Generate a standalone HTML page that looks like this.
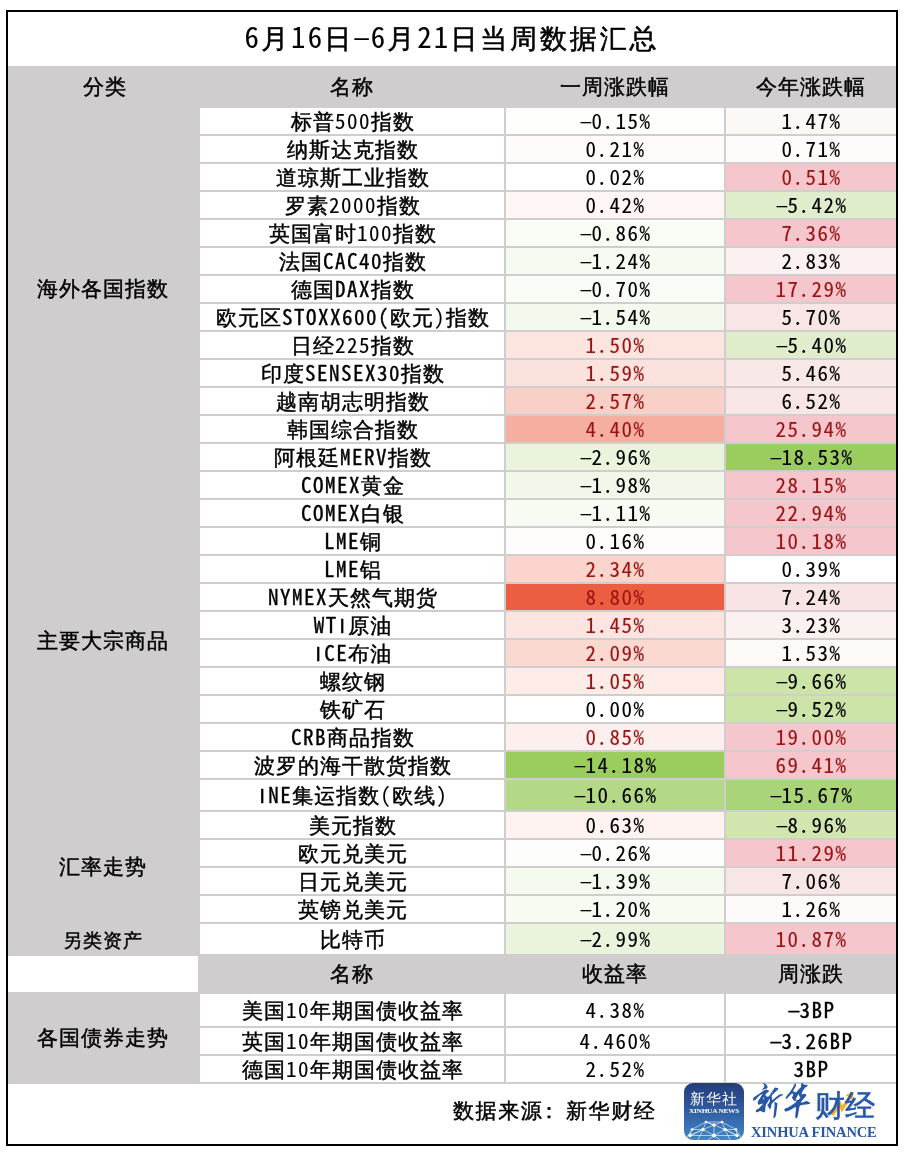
<!DOCTYPE html>
<html lang="zh-CN"><head><meta charset="utf-8"><title>6月16日-6月21日当周数据汇总</title>
<style>
html,body{margin:0;padding:0;background:#fff;}
body{width:910px;height:1162px;position:relative;overflow:hidden;
 font-family:"WenQuanYi Zen Hei","Noto Sans CJK SC",sans-serif;color:#000;-webkit-text-stroke:0.45px currentColor;}
#frame{position:absolute;left:6px;top:10px;width:892px;height:1136px;border:2px solid #000;box-sizing:border-box;}
#grid{position:absolute;left:8px;top:66px;width:888px;height:1018px;background:#cfcdcd;}
.c{position:absolute;text-align:center;white-space:nowrap;font-size:21px;letter-spacing:1px;background:#fff;}
.l{font-family:"Noto Sans Mono CJK SC","WenQuanYi Zen Hei Mono",monospace;letter-spacing:1.5px;line-height:0;}
.h{position:absolute;text-align:center;white-space:nowrap;font-size:21px;letter-spacing:1px;}
#title{-webkit-text-stroke:0.55px #000;position:absolute;left:8px;top:12px;width:888px;height:54px;line-height:54px;text-align:center;font-size:27px;letter-spacing:2.85px;white-space:nowrap;}
#title .l{font-size:28.8px;letter-spacing:2.2px;}
.l{-webkit-text-stroke:0.1px currentColor;}
.m{display:inline-block;transform:translateX(1.2px) scaleX(1.75) scaleY(0.85);line-height:1;}
.d{position:relative;left:-1px;}
.u{-webkit-text-stroke:0.35px currentColor;}
.i{display:inline-block;width:10.5px;text-align:center;font-family:"Liberation Sans",sans-serif;line-height:1;-webkit-text-stroke:0.3px currentColor;}
#src{position:absolute;left:453px;top:1099px;font-size:21px;letter-spacing:1.6px;white-space:nowrap;line-height:24px;}
#appicon{position:absolute;left:684px;top:1083px;width:60px;height:57px;border-radius:9px;overflow:hidden;background:linear-gradient(180deg,#243c7b 0%,#2f5a9e 45%,#4088c8 100%);}
#ai-t1{position:absolute;left:4px;top:8px;width:52px;text-align:center;font-size:15px;line-height:16px;letter-spacing:1px;color:#fff;-webkit-text-stroke:0;font-family:"WenQuanYi Zen Hei",sans-serif;}
#ai-t2{position:absolute;left:-22px;top:21.5px;width:104px;text-align:center;font-size:12px;line-height:12px;color:#fff;-webkit-text-stroke:0;font-family:"Liberation Serif",serif;font-weight:bold;transform:scale(0.62,0.52);letter-spacing:-0.5px;}
#ai-net{position:absolute;left:0;top:0;}
#xh-cal{position:absolute;left:750px;top:1080px;font-family:"Zhi Mang Xing","Ma Shan Zheng","Noto Serif CJK SC",serif;font-size:39px;line-height:44px;color:#2657a8;-webkit-text-stroke:0;white-space:nowrap;letter-spacing:-5px;transform:skewX(-6deg);}
#xh-cj{position:absolute;left:815px;top:1090px;font-family:"WenQuanYi Zen Hei",sans-serif;font-size:30px;line-height:32px;color:#2657a8;-webkit-text-stroke:0.6px #2657a8;white-space:nowrap;letter-spacing:0px;}
#xh-arrow{position:absolute;left:828px;top:1088px;}
#xh-en{position:absolute;left:751px;top:1124px;font-family:"Liberation Serif",serif;font-weight:bold;font-size:14.5px;line-height:16px;color:#2657a8;-webkit-text-stroke:0;white-space:nowrap;letter-spacing:-0.15px;}
</style></head><body>
<div id="frame"></div>
<div id="title"><span class="l">6</span>月<span class="l">16</span>日<span class="l"><span class="m">-</span>6</span>月<span class="l">21</span>日当周数据汇总</div>
<div id="grid"></div>
<div class="h" style="left:10px;top:66px;width:190px;height:40px;line-height:43px;">分类</div>
<div class="h" style="left:200px;top:66px;width:304px;height:40px;line-height:43px;">名称</div>
<div class="h" style="left:506px;top:66px;width:218px;height:40px;line-height:43px;">一周涨跌幅</div>
<div class="h" style="left:726px;top:66px;width:170px;height:40px;line-height:43px;">今年涨跌幅</div>
<div class="h" style="left:8px;top:108px;width:190px;height:362px;line-height:362px;">海外各国指数</div>
<div class="h" style="left:8px;top:472px;width:190px;height:338px;line-height:338px;">主要大宗商品</div>
<div class="h" style="left:8px;top:812px;width:190px;height:110px;line-height:110px;">汇率走势</div>
<div class="h" style="left:8px;top:924px;width:190px;height:30px;line-height:34px;font-size:19px;letter-spacing:1px;">另类资产</div>
<div class="c" style="left:8px;top:956px;width:190px;height:36px;"></div>
<div class="h" style="left:200px;top:954px;width:304px;height:40px;line-height:40px;">名称</div>
<div class="h" style="left:506px;top:954px;width:218px;height:40px;line-height:40px;">收益率</div>
<div class="h" style="left:726px;top:954px;width:170px;height:40px;line-height:40px;">周涨跌</div>
<div class="h" style="left:8px;top:994px;width:190px;height:88px;line-height:88px;">各国债券走势</div>
<div class="c" style="left:200px;top:108px;width:302px;height:26px;line-height:28px;padding-left:2px;">标普<span class="l">500</span>指数</div>
<div class="c" style="left:506px;top:108px;width:217px;height:26px;line-height:28px;padding-left:1px;background:#fefefd;"><span class="l"><span class="m">-</span>0<span class="d">.</span>15%</span></div>
<div class="c" style="left:726px;top:108px;width:169px;height:26px;line-height:28px;padding-left:1px;background:#fcf8f6;"><span class="l">1<span class="d">.</span>47%</span></div>
<div class="c" style="left:200px;top:136px;width:302px;height:26px;line-height:28px;padding-left:2px;">纳斯达克指数</div>
<div class="c" style="left:506px;top:136px;width:217px;height:26px;line-height:28px;padding-left:1px;background:#fffbfa;"><span class="l">0<span class="d">.</span>21%</span></div>
<div class="c" style="left:726px;top:136px;width:169px;height:26px;line-height:28px;padding-left:1px;background:#fefbfb;"><span class="l">0<span class="d">.</span>71%</span></div>
<div class="c" style="left:200px;top:164px;width:302px;height:26px;line-height:28px;padding-left:2px;">道琼斯工业指数</div>
<div class="c" style="left:506px;top:164px;width:217px;height:26px;line-height:28px;padding-left:1px;background:#ffffff;"><span class="l">0<span class="d">.</span>02%</span></div>
<div class="c" style="left:726px;top:164px;width:169px;height:26px;line-height:28px;padding-left:1px;background:#f6c6cd;color:#9a1414;"><span class="l">0<span class="d">.</span>51%</span></div>
<div class="c" style="left:200px;top:192px;width:302px;height:26px;line-height:28px;padding-left:2px;">罗素<span class="l">2000</span>指数</div>
<div class="c" style="left:506px;top:192px;width:217px;height:26px;line-height:28px;padding-left:1px;background:#fef7f6;"><span class="l">0<span class="d">.</span>42%</span></div>
<div class="c" style="left:726px;top:192px;width:169px;height:26px;line-height:28px;padding-left:1px;background:#e0edcc;"><span class="l"><span class="m">-</span>5<span class="d">.</span>42%</span></div>
<div class="c" style="left:200px;top:220px;width:302px;height:26px;line-height:28px;padding-left:2px;">英国富时<span class="l">100</span>指数</div>
<div class="c" style="left:506px;top:220px;width:217px;height:26px;line-height:28px;padding-left:1px;background:#f9fcf5;"><span class="l"><span class="m">-</span>0<span class="d">.</span>86%</span></div>
<div class="c" style="left:726px;top:220px;width:169px;height:26px;line-height:28px;padding-left:1px;background:#f6c6cd;color:#9a1414;"><span class="l">7<span class="d">.</span>36%</span></div>
<div class="c" style="left:200px;top:248px;width:302px;height:26px;line-height:28px;padding-left:2px;">法国<span class="l u">CAC40</span>指数</div>
<div class="c" style="left:506px;top:248px;width:217px;height:26px;line-height:28px;padding-left:1px;background:#f6fbf1;"><span class="l"><span class="m">-</span>1<span class="d">.</span>24%</span></div>
<div class="c" style="left:726px;top:248px;width:169px;height:26px;line-height:28px;padding-left:1px;background:#fbf1f1;"><span class="l">2<span class="d">.</span>83%</span></div>
<div class="c" style="left:200px;top:276px;width:302px;height:26px;line-height:28px;padding-left:2px;">德国<span class="l u">DAX</span>指数</div>
<div class="c" style="left:506px;top:276px;width:217px;height:26px;line-height:28px;padding-left:1px;background:#fafcf7;"><span class="l"><span class="m">-</span>0<span class="d">.</span>70%</span></div>
<div class="c" style="left:726px;top:276px;width:169px;height:26px;line-height:28px;padding-left:1px;background:#f6c6cd;color:#9a1414;"><span class="l">17<span class="d">.</span>29%</span></div>
<div class="c" style="left:200px;top:304px;width:302px;height:26px;line-height:28px;padding-left:2px;">欧元区<span class="l u">STOXX600(</span>欧元<span class="l">)</span>指数</div>
<div class="c" style="left:506px;top:304px;width:217px;height:26px;line-height:28px;padding-left:1px;background:#f4f9ee;"><span class="l"><span class="m">-</span>1<span class="d">.</span>54%</span></div>
<div class="c" style="left:726px;top:304px;width:169px;height:26px;line-height:28px;padding-left:1px;background:#f8e6e6;"><span class="l">5<span class="d">.</span>70%</span></div>
<div class="c" style="left:200px;top:332px;width:302px;height:26px;line-height:28px;padding-left:2px;">日经<span class="l">225</span>指数</div>
<div class="c" style="left:506px;top:332px;width:217px;height:26px;line-height:28px;padding-left:1px;background:#fce4df;color:#9a1414;"><span class="l">1<span class="d">.</span>50%</span></div>
<div class="c" style="left:726px;top:332px;width:169px;height:26px;line-height:28px;padding-left:1px;background:#e0edcc;"><span class="l"><span class="m">-</span>5<span class="d">.</span>40%</span></div>
<div class="c" style="left:200px;top:360px;width:302px;height:26px;line-height:28px;padding-left:2px;">印度<span class="l u">SENSEX30</span>指数</div>
<div class="c" style="left:506px;top:360px;width:217px;height:26px;line-height:28px;padding-left:1px;background:#fce2dd;color:#9a1414;"><span class="l">1<span class="d">.</span>59%</span></div>
<div class="c" style="left:726px;top:360px;width:169px;height:26px;line-height:28px;padding-left:1px;background:#f9e8e8;"><span class="l">5<span class="d">.</span>46%</span></div>
<div class="c" style="left:200px;top:388px;width:302px;height:26px;line-height:28px;padding-left:2px;">越南胡志明指数</div>
<div class="c" style="left:506px;top:388px;width:217px;height:26px;line-height:28px;padding-left:1px;background:#f9d0c8;color:#9a1414;"><span class="l">2<span class="d">.</span>57%</span></div>
<div class="c" style="left:726px;top:388px;width:169px;height:26px;line-height:28px;padding-left:1px;background:#f8e6e6;"><span class="l">6<span class="d">.</span>52%</span></div>
<div class="c" style="left:200px;top:416px;width:302px;height:26px;line-height:28px;padding-left:2px;">韩国综合指数</div>
<div class="c" style="left:506px;top:416px;width:217px;height:26px;line-height:28px;padding-left:1px;background:#f6aea0;color:#9a1414;"><span class="l">4<span class="d">.</span>40%</span></div>
<div class="c" style="left:726px;top:416px;width:169px;height:26px;line-height:28px;padding-left:1px;background:#f6c6cd;color:#9a1414;"><span class="l">25<span class="d">.</span>94%</span></div>
<div class="c" style="left:200px;top:444px;width:302px;height:26px;line-height:28px;padding-left:2px;">阿根廷<span class="l u">MERV</span>指数</div>
<div class="c" style="left:506px;top:444px;width:217px;height:26px;line-height:28px;padding-left:1px;background:#eaf4dd;"><span class="l"><span class="m">-</span>2<span class="d">.</span>96%</span></div>
<div class="c" style="left:726px;top:444px;width:169px;height:26px;line-height:28px;padding-left:1px;background:#9bcc5e;"><span class="l"><span class="m">-</span>18<span class="d">.</span>53%</span></div>
<div class="c" style="left:200px;top:472px;width:302px;height:26px;line-height:28px;padding-left:2px;"><span class="l u">COMEX</span>黄金</div>
<div class="c" style="left:506px;top:472px;width:217px;height:26px;line-height:28px;padding-left:1px;background:#f1f8e9;"><span class="l"><span class="m">-</span>1<span class="d">.</span>98%</span></div>
<div class="c" style="left:726px;top:472px;width:169px;height:26px;line-height:28px;padding-left:1px;background:#f6c6cd;color:#9a1414;"><span class="l">28<span class="d">.</span>15%</span></div>
<div class="c" style="left:200px;top:500px;width:302px;height:26px;line-height:28px;padding-left:2px;"><span class="l u">COMEX</span>白银</div>
<div class="c" style="left:506px;top:500px;width:217px;height:26px;line-height:28px;padding-left:1px;background:#f7fbf2;"><span class="l"><span class="m">-</span>1<span class="d">.</span>11%</span></div>
<div class="c" style="left:726px;top:500px;width:169px;height:26px;line-height:28px;padding-left:1px;background:#f6c6cd;color:#9a1414;"><span class="l">22<span class="d">.</span>94%</span></div>
<div class="c" style="left:200px;top:528px;width:302px;height:26px;line-height:28px;padding-left:2px;"><span class="l u">LME</span>铜</div>
<div class="c" style="left:506px;top:528px;width:217px;height:26px;line-height:28px;padding-left:1px;background:#fffcfc;"><span class="l">0<span class="d">.</span>16%</span></div>
<div class="c" style="left:726px;top:528px;width:169px;height:26px;line-height:28px;padding-left:1px;background:#f6c6cd;color:#9a1414;"><span class="l">10<span class="d">.</span>18%</span></div>
<div class="c" style="left:200px;top:556px;width:302px;height:26px;line-height:28px;padding-left:2px;"><span class="l u">LME</span>铝</div>
<div class="c" style="left:506px;top:556px;width:217px;height:26px;line-height:28px;padding-left:1px;background:#fad4cd;color:#9a1414;"><span class="l">2<span class="d">.</span>34%</span></div>
<div class="c" style="left:726px;top:556px;width:169px;height:26px;line-height:28px;padding-left:1px;background:#ffffff;"><span class="l">0<span class="d">.</span>39%</span></div>
<div class="c" style="left:200px;top:584px;width:302px;height:26px;line-height:28px;padding-left:2px;"><span class="l u">NYMEX</span>天然气期货</div>
<div class="c" style="left:506px;top:584px;width:217px;height:26px;line-height:28px;padding-left:1px;background:#ec5e42;color:#9a1414;"><span class="l">8<span class="d">.</span>80%</span></div>
<div class="c" style="left:726px;top:584px;width:169px;height:26px;line-height:28px;padding-left:1px;background:#f8e4e4;"><span class="l">7<span class="d">.</span>24%</span></div>
<div class="c" style="left:200px;top:612px;width:302px;height:26px;line-height:28px;padding-left:2px;"><span class="l u">WT<span class="i">I</span></span>原油</div>
<div class="c" style="left:506px;top:612px;width:217px;height:26px;line-height:28px;padding-left:1px;background:#fce4e0;color:#9a1414;"><span class="l">1<span class="d">.</span>45%</span></div>
<div class="c" style="left:726px;top:612px;width:169px;height:26px;line-height:28px;padding-left:1px;background:#fbf1f1;"><span class="l">3<span class="d">.</span>23%</span></div>
<div class="c" style="left:200px;top:640px;width:302px;height:26px;line-height:28px;padding-left:2px;"><span class="l u"><span class="i">I</span>CE</span>布油</div>
<div class="c" style="left:506px;top:640px;width:217px;height:26px;line-height:28px;padding-left:1px;background:#fad9d2;color:#9a1414;"><span class="l">2<span class="d">.</span>09%</span></div>
<div class="c" style="left:726px;top:640px;width:169px;height:26px;line-height:28px;padding-left:1px;background:#fcf9f7;"><span class="l">1<span class="d">.</span>53%</span></div>
<div class="c" style="left:200px;top:668px;width:302px;height:26px;line-height:28px;padding-left:2px;">螺纹钢</div>
<div class="c" style="left:506px;top:668px;width:217px;height:26px;line-height:28px;padding-left:1px;background:#fdece8;color:#9a1414;"><span class="l">1<span class="d">.</span>05%</span></div>
<div class="c" style="left:726px;top:668px;width:169px;height:26px;line-height:28px;padding-left:1px;background:#cde4a8;"><span class="l"><span class="m">-</span>9<span class="d">.</span>66%</span></div>
<div class="c" style="left:200px;top:696px;width:302px;height:26px;line-height:28px;padding-left:2px;">铁矿石</div>
<div class="c" style="left:506px;top:696px;width:217px;height:26px;line-height:28px;padding-left:1px;background:#ffffff;"><span class="l">0<span class="d">.</span>00%</span></div>
<div class="c" style="left:726px;top:696px;width:169px;height:26px;line-height:28px;padding-left:1px;background:#cde4a8;"><span class="l"><span class="m">-</span>9<span class="d">.</span>52%</span></div>
<div class="c" style="left:200px;top:724px;width:302px;height:26px;line-height:28px;padding-left:2px;"><span class="l u">CRB</span>商品指数</div>
<div class="c" style="left:506px;top:724px;width:217px;height:26px;line-height:28px;padding-left:1px;background:#fdefed;color:#9a1414;"><span class="l">0<span class="d">.</span>85%</span></div>
<div class="c" style="left:726px;top:724px;width:169px;height:26px;line-height:28px;padding-left:1px;background:#f6c6cd;color:#9a1414;"><span class="l">19<span class="d">.</span>00%</span></div>
<div class="c" style="left:200px;top:752px;width:302px;height:26px;line-height:28px;padding-left:2px;">波罗的海干散货指数</div>
<div class="c" style="left:506px;top:752px;width:217px;height:26px;line-height:28px;padding-left:1px;background:#9bcc5e;"><span class="l"><span class="m">-</span>14<span class="d">.</span>18%</span></div>
<div class="c" style="left:726px;top:752px;width:169px;height:26px;line-height:28px;padding-left:1px;background:#f6c6cd;color:#9a1414;"><span class="l">69<span class="d">.</span>41%</span></div>
<div class="c" style="left:200px;top:780px;width:302px;height:30px;line-height:32px;padding-left:2px;"><span class="l u"><span class="i">I</span>NE</span>集运指数<span class="l">(</span>欧线<span class="l">)</span></div>
<div class="c" style="left:506px;top:780px;width:217px;height:30px;line-height:32px;padding-left:1px;background:#b4d986;"><span class="l"><span class="m">-</span>10<span class="d">.</span>66%</span></div>
<div class="c" style="left:726px;top:780px;width:169px;height:30px;line-height:32px;padding-left:1px;background:#aad478;"><span class="l"><span class="m">-</span>15<span class="d">.</span>67%</span></div>
<div class="c" style="left:200px;top:812px;width:302px;height:26px;line-height:28px;padding-left:2px;">美元指数</div>
<div class="c" style="left:506px;top:812px;width:217px;height:26px;line-height:28px;padding-left:1px;background:#fef3f1;"><span class="l">0<span class="d">.</span>63%</span></div>
<div class="c" style="left:726px;top:812px;width:169px;height:26px;line-height:28px;padding-left:1px;background:#d0e6ae;"><span class="l"><span class="m">-</span>8<span class="d">.</span>96%</span></div>
<div class="c" style="left:200px;top:840px;width:302px;height:26px;line-height:28px;padding-left:2px;">欧元兑美元</div>
<div class="c" style="left:506px;top:840px;width:217px;height:26px;line-height:28px;padding-left:1px;background:#fdfefc;"><span class="l"><span class="m">-</span>0<span class="d">.</span>26%</span></div>
<div class="c" style="left:726px;top:840px;width:169px;height:26px;line-height:28px;padding-left:1px;background:#f6c6cd;color:#9a1414;"><span class="l">11<span class="d">.</span>29%</span></div>
<div class="c" style="left:200px;top:868px;width:302px;height:26px;line-height:28px;padding-left:2px;">日元兑美元</div>
<div class="c" style="left:506px;top:868px;width:217px;height:26px;line-height:28px;padding-left:1px;background:#f5faef;"><span class="l"><span class="m">-</span>1<span class="d">.</span>39%</span></div>
<div class="c" style="left:726px;top:868px;width:169px;height:26px;line-height:28px;padding-left:1px;background:#f8e5e5;"><span class="l">7<span class="d">.</span>06%</span></div>
<div class="c" style="left:200px;top:896px;width:302px;height:26px;line-height:28px;padding-left:2px;">英镑兑美元</div>
<div class="c" style="left:506px;top:896px;width:217px;height:26px;line-height:28px;padding-left:1px;background:#f7fbf1;"><span class="l"><span class="m">-</span>1<span class="d">.</span>20%</span></div>
<div class="c" style="left:726px;top:896px;width:169px;height:26px;line-height:28px;padding-left:1px;background:#fdfbf9;"><span class="l">1<span class="d">.</span>26%</span></div>
<div class="c" style="left:200px;top:924px;width:302px;height:30px;line-height:32px;padding-left:2px;">比特币</div>
<div class="c" style="left:506px;top:924px;width:217px;height:30px;line-height:32px;padding-left:1px;background:#eaf4dd;"><span class="l"><span class="m">-</span>2<span class="d">.</span>99%</span></div>
<div class="c" style="left:726px;top:924px;width:169px;height:30px;line-height:32px;padding-left:1px;background:#f6c6cd;color:#9a1414;"><span class="l">10<span class="d">.</span>87%</span></div>
<div class="c" style="left:200px;top:994px;width:302px;height:32px;line-height:34px;padding-left:2px;">美国<span class="l">10</span>年期国债收益率</div>
<div class="c" style="left:506px;top:994px;width:217px;height:32px;line-height:34px;padding-left:1px;"><span class="l">4<span class="d">.</span>38%</span></div>
<div class="c" style="left:726px;top:994px;width:169px;height:32px;line-height:34px;padding-left:1px;"><span class="l u"><span class="m">-</span>3BP</span></div>
<div class="c" style="left:200px;top:1028px;width:302px;height:26px;line-height:28px;padding-left:2px;">英国<span class="l">10</span>年期国债收益率</div>
<div class="c" style="left:506px;top:1028px;width:217px;height:26px;line-height:28px;padding-left:1px;"><span class="l">4<span class="d">.</span>460%</span></div>
<div class="c" style="left:726px;top:1028px;width:169px;height:26px;line-height:28px;padding-left:1px;"><span class="l u"><span class="m">-</span>3<span class="d">.</span>26BP</span></div>
<div class="c" style="left:200px;top:1056px;width:302px;height:26px;line-height:28px;padding-left:2px;">德国<span class="l">10</span>年期国债收益率</div>
<div class="c" style="left:506px;top:1056px;width:217px;height:26px;line-height:28px;padding-left:1px;"><span class="l">2<span class="d">.</span>52%</span></div>
<div class="c" style="left:726px;top:1056px;width:169px;height:26px;line-height:28px;padding-left:1px;"><span class="l u">3BP</span></div>
<div class="c" style="left:8px;top:1084px;width:888px;height:60px;"></div>
<div id="src">数据来源<span style="position:relative;left:-5px">：</span>新华财经</div>
<div id="appicon">
<div id="ai-t1">新华社</div>
<div id="ai-t2">XINHUA NEWS</div>
<svg id="ai-net" width="60" height="57" viewBox="0 0 60 57">
<g stroke="#ffffff" stroke-opacity="0.75" stroke-width="0.8" fill="none">
<path d="M22 39 L38 39 L30 42 Z M22 39 L8 46.5 L6 52.5 M22 39 L19 46.5 L6 52.5 M22 39 L30 42 L19 46.5 L30 52.5 L41 46.5 L30 42 M38 39 L41 46.5 L53 52.5 M38 39 L52 46.5 L53 52.5 M8 46.5 L19 46.5 M41 46.5 L52 46.5 M19 46.5 L6 52.5 M41 46.5 L53 52.5 M30 42 L30 52.5 M6 52.5 L30 52.5 L53 52.5 M8 46.5 L2 56 M52 46.5 L58 56 M19 46.5 L14 57 M41 46.5 L46 57 M30 52.5 L24 57 M30 52.5 L36 57"/>
</g>
<g fill="#ffffff">
<circle cx="22" cy="39" r="1.3"/><circle cx="38" cy="39" r="1.3"/><circle cx="30" cy="42" r="1.7"/>
<circle cx="8" cy="46.5" r="1.3"/><circle cx="19" cy="46.5" r="1.7"/><circle cx="41" cy="46.5" r="1.7"/><circle cx="52" cy="46.5" r="1.3"/>
<circle cx="6" cy="52.5" r="1.7"/><circle cx="30" cy="52.5" r="2"/><circle cx="53" cy="52.5" r="1.7"/>
</g>
</svg>
</div>
<div id="xh-cal">新华</div>
<svg id="xh-arrow" width="30" height="30" viewBox="0 0 30 30"><path d="M4 27 L12 16 L14 21 L22 9" stroke="#f0b429" stroke-width="3.2" fill="none" stroke-linejoin="miter"/><path d="M17.5 7 L25.5 3.5 L24.5 12 Z" fill="#f0b429"/></svg>
<div id="xh-cj">财经</div>

<div id="xh-en">XINHUA FINANCE</div>

</body></html>
